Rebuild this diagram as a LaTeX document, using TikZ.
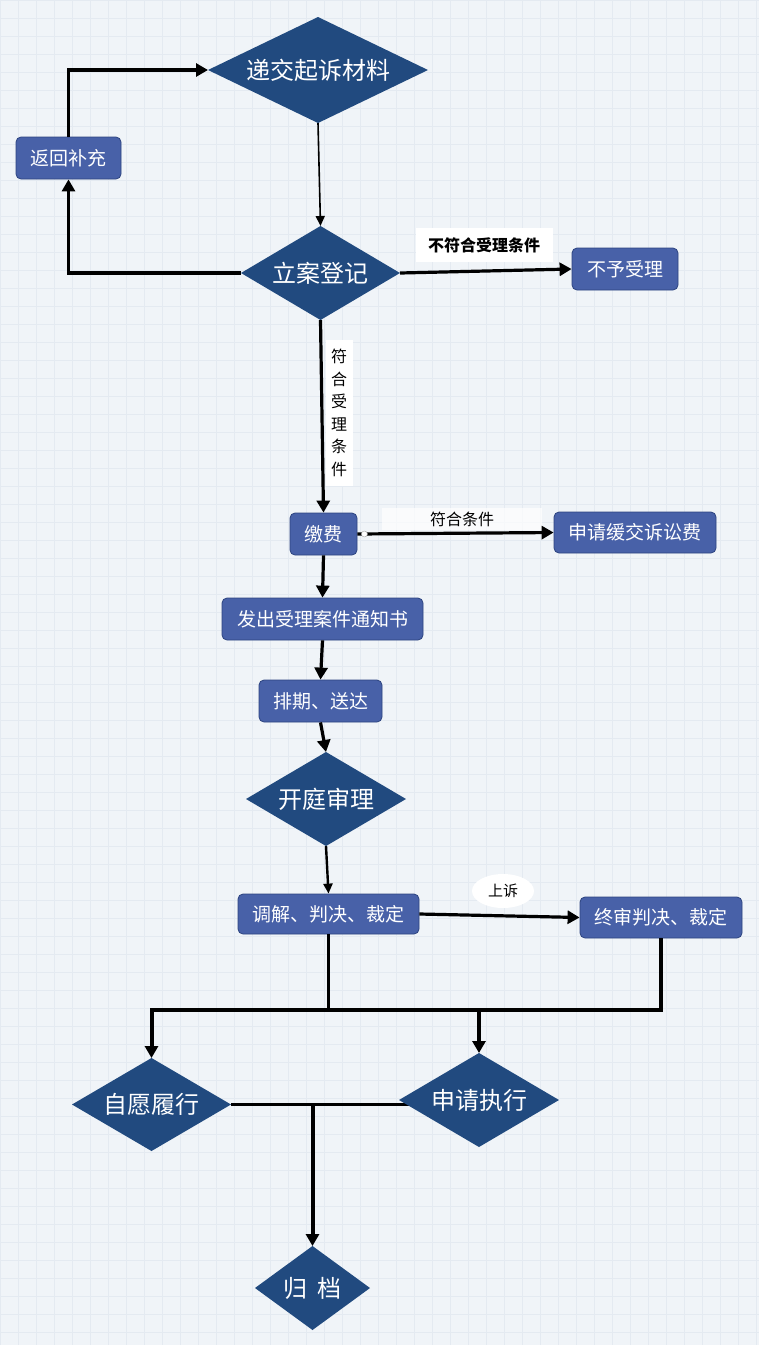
\documentclass[tikz,border=0pt]{standalone}
\usepackage{fontspec}
\setmainfont{Noto Sans CJK SC}
\usetikzlibrary{shapes.geometric,arrows.meta}
\pgfdeclarelayer{paper}
\pgfdeclarelayer{under}
\pgfsetlayers{paper,under,main}
\definecolor{bgc}{RGB}{240,244,248}
\definecolor{gridc}{RGB}{228,234,241}
\definecolor{dia}{RGB}{33,74,127}
\definecolor{boxc}{RGB}{72,97,168}
\definecolor{boxb}{RGB}{45,68,128}
\tikzset{
  dnode/.style={diamond,fill=dia,text=white,inner sep=0pt,outer sep=0pt,font=\fontsize{24}{26}\selectfont},
  bnode/.style={rectangle,rounded corners=5pt,fill=boxc,draw=boxb,line width=0.8pt,text=white,inner sep=0pt,font=\fontsize{19}{21}\selectfont},
  conn/.style={line width=3.2pt,-{Triangle[length=12pt,width=13pt]}},
  connthin/.style={line width=1.6pt,-{Triangle[length=10pt,width=9pt]}},
  plain/.style={line width=3.2pt},
  lab/.style={fill=white,text=black,inner sep=0pt,font=\fontsize{16}{18}\selectfont}
}
\begin{document}
\begin{tikzpicture}[x=1pt,y=-1pt]
\useasboundingbox (0,0) rectangle (759,1345);
\begin{pgfonlayer}{paper}
\fill[bgc] (0,0) rectangle (759,1345);
\foreach \i in {0,18,...,759} {\draw[gridc,line width=0.4pt] (\i,0) -- (\i,1345);}
\foreach \j in {0,18,...,1345} {\draw[gridc,line width=0.4pt] (0,\j) -- (759,\j);}
\end{pgfonlayer}

% nodes
\node[dnode,aspect=2.08,minimum width=220pt,minimum height=106pt] (d1) at (318,70) {递交起诉材料};
\node[bnode,minimum width=105pt,minimum height=42pt] (r1) at (68.5,158) {返回补充};
\node[dnode,aspect=1.7,minimum width=159pt,minimum height=94pt] (d2) at (320.5,273) {立案登记};
\node[bnode,minimum width=106pt,minimum height=42pt] (r2) at (625,269) {不予受理};
\node[bnode,minimum width=67pt,minimum height=42pt] (r3) at (323.5,534) {缴费};
\node[bnode,minimum width=162pt,minimum height=41pt] (r4) at (635,532.5) {申请缓交诉讼费};
\node[bnode,minimum width=201pt,minimum height=42pt] (r5) at (322.5,619) {发出受理案件通知书};
\node[bnode,minimum width=123pt,minimum height=42pt] (r6) at (320.5,701) {排期、送达};
\node[dnode,aspect=1.7,minimum width=160pt,minimum height=94pt] (d3) at (326,799) {开庭审理};
\node[bnode,minimum width=181pt,minimum height=40pt] (r7) at (328.5,914) {调解、判决、裁定};
\node[bnode,minimum width=162pt,minimum height=41pt] (r8) at (661,917.5) {终审判决、裁定};
\node[dnode,aspect=1.7,minimum width=159pt,minimum height=93pt] (d4) at (151.5,1104.5) {自愿履行};
\node[dnode,aspect=1.7,minimum width=160pt,minimum height=94pt] (d5) at (479,1100) {申请执行};
\node[dnode,aspect=1.37,minimum width=115pt,minimum height=84pt] (d6) at (312.5,1288) {归\hspace{0.4em}档};

% labels
\node[lab,minimum width=137pt,minimum height=34pt,font=\fontsize{16}{18}\selectfont\bfseries] (l1) at (484,245) {不符合受理条件};
\node[lab,minimum width=27pt,minimum height=146pt,align=center,font=\fontsize{16}{22.5}\selectfont] (l2) at (339,413) {符\\合\\受\\理\\条\\件};
\node[lab,minimum width=160pt,minimum height=22pt,fill opacity=0.7,text opacity=1] (l3) at (462,519) {符合条件};
\node[lab,ellipse,minimum width=62pt,minimum height=34pt,font=\fontsize{15}{17}\selectfont] (l4) at (503,891) {上诉};

% connectors
\draw[connthin] (d1.south) -- (d2.north);
\draw[conn] (d2.west) -| (r1.south);
\draw[conn] (r1.north) |- (d1.west);
\draw[conn] (d2.east) -- (r2.west);
\draw[conn] (d2.south) -- (r3.north);
\draw[conn] (r3.east) -- (r4.west);
\node[circle,draw=gray!70,fill=white,inner sep=0pt,minimum size=6pt] (c1) at ([xshift=7pt]r3.east) {};
\draw[conn] (r3.south) -- (r5.north);
\draw[conn] (r5.south) -- (r6.north);
\draw[conn] (r6.south) -- (d3.north);
\draw[connthin,line width=2.4pt] (d3.south) -- (r7.north);
\draw[conn] (r7.east) -- (r8.west);
\coordinate (m) at (329,1010);
\draw[plain] (r7.south) -- (r7.south |- m);
\draw[conn,line width=4pt] (r8.south) |- (d4.north |- m) -- (d4.north);
\draw[conn,line width=4pt] (d5.north |- m) -- (d5.north);
\begin{pgfonlayer}{under}
\draw[plain,line width=2.4pt] (d4.east) -- (d4.east -| d5.center);
\end{pgfonlayer}
\coordinate (j) at (d6.north |- d4.east);
\draw[conn,line width=4pt] (j) -- (d6.north);
\end{tikzpicture}
\end{document}
